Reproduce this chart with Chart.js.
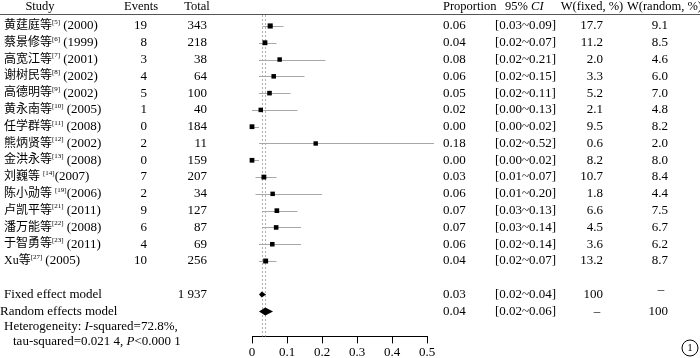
<!DOCTYPE html>
<html>
<head>
<meta charset="utf-8">
<script src="https://cdn.jsdelivr.net/npm/chart.js@4/dist/chart.umd.min.js"></script>
<style>
  html, body { margin: 0; padding: 0; background: #fff; }
  #wrap { width: 700px; height: 358px; position: relative; }
</style>
</head>
<body>
<div id="wrap"><canvas id="forestChart"></canvas></div>
<script>
// study rows
const studies = ['黄莛庭等', '蔡景修等', '高宽江等', '谢树民等', '高德明等', '黄永南等', '任学群等', '熊炳贤等',
                 '金洪永等', '刘巍等', '陈小勋等', '卢凯平等', '潘万能等', '于智勇等', 'Xu等'];
const refs = ['5', '6', '7', '8', '9', '10', '11', '12', '13', '14', '19', '21', '22', '23', '27'];
const years = ['2000', '1999', '2001', '2002', '2002', '2005', '2008', '2002', '2008', '2007', '2006', '2011', '2008', '2011', '2005'];
const events = [19, 8, 3, 4, 5, 1, 0, 2, 0, 7, 2, 9, 6, 4, 10];
const totals = [343, 218, 38, 64, 100, 40, 184, 11, 159, 207, 34, 127, 87, 69, 256];
const proportions = [0.052, 0.037, 0.079, 0.062, 0.05, 0.025, 0.0, 0.182, 0.0, 0.034, 0.059, 0.071, 0.069, 0.058, 0.039];
const propLabels = ['0.06', '0.04', '0.08', '0.06', '0.05', '0.02', '0.00', '0.18', '0.00', '0.03', '0.06', '0.07', '0.07', '0.06', '0.04'];
const ciLow = [0.03, 0.02, 0.02, 0.02, 0.02, 0.00, 0.00, 0.02, 0.00, 0.01, 0.01, 0.03, 0.03, 0.02, 0.02];
const ciHigh = [0.09, 0.07, 0.21, 0.15, 0.11, 0.13, 0.02, 0.52, 0.02, 0.07, 0.20, 0.13, 0.14, 0.14, 0.07];
const wFixed = ['17.7', '11.2', '2.0', '3.3', '5.2', '2.1', '9.5', '0.6', '8.2', '10.7', '1.8', '6.6', '4.5', '3.6', '13.2'];
const wRandom = ['9.1', '8.5', '4.6', '6.0', '7.0', '4.8', '8.2', '2.0', '8.0', '8.4', '4.4', '7.5', '6.7', '6.2', '8.7'];

// pooled rows
const modelNames = ['Fixed effect model', 'Random effects model'];
const modelTotals = ['1 937', ''];
const modelEst = [0.028, 0.038];
const modelLow = [0.02, 0.02];
const modelHigh = [0.04, 0.06];
const modelProp = ['0.03', '0.04'];
const modelWFixed = ['100', '–'];
const modelWRandom = ['–', '100'];

const xTicks = [0, 0.1, 0.2, 0.3, 0.4, 0.5];

const SERIF = "'Liberation Serif', 'Noto Sans CJK SC', serif";
const CJK = "'Liberation Serif', 'Noto Sans CJK SC', sans-serif";
const FS = '13px ';
const HS = '12.5px ';
const modelRow0 = studies.length + 1;

function txt(ctx, s, x, y, align, font) {
    ctx.font = font || (FS + SERIF);
    ctx.textAlign = align || 'left';
    ctx.fillText(s, x, y);
}

const forestPlugin = {
    id: 'forest',
    beforeDatasetsDraw(chart) {
        const { ctx, scales: { x, y } } = chart;
        ctx.save();
        // pooled estimate reference lines
        ctx.strokeStyle = '#b0b0b0';
        ctx.lineWidth = 1;
        ctx.setLineDash([2, 2]);
        modelEst.forEach(v => {
            const px = Math.round(x.getPixelForValue(v)) + 0.5;
            ctx.beginPath();
            ctx.moveTo(px, 15);
            ctx.lineTo(px, chart.chartArea.bottom);
            ctx.stroke();
        });
        ctx.setLineDash([]);
        // confidence intervals
        ctx.strokeStyle = '#a8a8a8';
        studies.forEach((s, i) => {
            const py = Math.round(y.getPixelForValue(i)) + 0.5;
            ctx.beginPath();
            ctx.moveTo(x.getPixelForValue(ciLow[i]), py);
            ctx.lineTo(x.getPixelForValue(ciHigh[i]), py);
            ctx.stroke();
        });
        // diamonds
        ctx.fillStyle = '#000';
        modelEst.forEach((v, k) => {
            const py = y.getPixelForValue(modelRow0 + k);
            const h = k === 0 ? 3 : 4;
            ctx.beginPath();
            ctx.moveTo(x.getPixelForValue(modelLow[k]), py);
            ctx.lineTo(x.getPixelForValue(v), py - h);
            ctx.lineTo(x.getPixelForValue(modelHigh[k]), py);
            ctx.lineTo(x.getPixelForValue(v), py + h);
            ctx.closePath();
            ctx.fill();
        });
        ctx.restore();
    },
    afterDraw(chart) {
        const { ctx, scales: { y } } = chart;
        ctx.save();
        ctx.fillStyle = '#000';
        ctx.textBaseline = 'middle';

        // header
        txt(ctx, 'Study', 40, 7, 'center', HS + SERIF);
        txt(ctx, 'Events', 141, 7, 'center', HS + SERIF);
        txt(ctx, 'Total', 197, 7, 'center', HS + SERIF);
        txt(ctx, 'Proportion', 443, 7, 'left', HS + SERIF);
        ctx.font = HS + SERIF;
        ctx.textAlign = 'left';
        ctx.fillText('95% ', 505, 7);
        const w95 = ctx.measureText('95% ').width;
        txt(ctx, 'CI', 505 + w95, 7, 'left', 'italic ' + HS + SERIF);
        txt(ctx, 'W(fixed, %)', 592, 7, 'center', HS + SERIF);
        txt(ctx, 'W(random, %)', 627, 7, 'left', HS + SERIF);
        ctx.strokeStyle = '#555';
        ctx.lineWidth = 1;
        ctx.beginPath();
        ctx.moveTo(0, 14.5);
        ctx.lineTo(700, 14.5);
        ctx.stroke();

        // study rows
        studies.forEach((s, i) => {
            const py = y.getPixelForValue(i);
            ctx.font = '12px ' + CJK;
            ctx.textAlign = 'left';
            ctx.fillText(s, 4, py);
            let cx = 4 + ctx.measureText(s).width;
            const gapFirst = (i === 9 || i === 10);
            if (gapFirst) cx += 3;
            ctx.font = '7px ' + SERIF;
            const sup = '[' + refs[i] + ']';
            ctx.fillText(sup, cx, py - 4);
            cx += ctx.measureText(sup).width + (gapFirst ? 0 : 3);
            txt(ctx, '(' + years[i] + ')', cx, py, 'left');
            txt(ctx, String(events[i]), 147, py, 'right');
            txt(ctx, String(totals[i]), 207, py, 'right');
            txt(ctx, propLabels[i], 443, py, 'left');
            txt(ctx, '[' + ciLow[i].toFixed(2) + '~' + ciHigh[i].toFixed(2) + ']', 495, py, 'left');
            txt(ctx, wFixed[i], 603, py, 'right');
            txt(ctx, wRandom[i], 668, py, 'right');
        });

        // pooled rows
        modelNames.forEach((m, k) => {
            const py = y.getPixelForValue(modelRow0 + k);
            txt(ctx, m, k === 0 ? 4 : 0, py, 'left');
            txt(ctx, modelTotals[k], 207, py, 'right');
            txt(ctx, modelProp[k], 443, py, 'left');
            txt(ctx, '[' + modelLow[k].toFixed(2) + '~' + modelHigh[k].toFixed(2) + ']', 495, py, 'left');
            if (modelWFixed[k] === '–') txt(ctx, '–', 597, py, 'center');
            else txt(ctx, modelWFixed[k], 603, py, 'right');
            if (modelWRandom[k] === '–') txt(ctx, '–', 661, py - 5, 'center');
            else txt(ctx, modelWRandom[k], 668, py, 'right');
        });

        // heterogeneity
        const parts1 = [['Heterogeneity: ', ''], ['I', 'italic '], ['-squared=72.8%,', '']];
        const parts2 = [['tau-squared=0.021 4, ', ''], ['P', 'italic '], ['<0.000 1', '']];
        [[parts1, 4, 327], [parts2, 13, 342]].forEach(([parts, x0, py]) => {
            let cx = x0;
            parts.forEach(([t, st]) => {
                ctx.font = st + FS + SERIF;
                ctx.textAlign = 'left';
                ctx.fillText(t, cx, py);
                cx += ctx.measureText(t).width;
            });
        });

        // figure number
        ctx.beginPath();
        ctx.arc(690, 348, 8, 0, Math.PI * 2);
        ctx.strokeStyle = '#000';
        ctx.stroke();
        txt(ctx, '1', 690, 348.5, 'center', '11px ' + SERIF);
        ctx.restore();
    }
};

new Chart(document.getElementById('forestChart'), {
    type: 'scatter',
    data: {
        datasets: [{
            label: 'Proportion',
            data: proportions.map((p, i) => ({ x: p, y: i })),
            pointStyle: 'rect',
            pointRadius: wFixed.map(w => 3.1 + 0.03 * parseFloat(w)),
            backgroundColor: '#000',
            borderWidth: 0,
            clip: false
        }]
    },
    options: {
        responsive: true,
        maintainAspectRatio: false,
        animation: false,
        events: [],
        layout: { padding: { left: 252, right: 273, top: 8, bottom: -3 } },
        plugins: { legend: { display: false }, tooltip: { enabled: false } },
        scales: {
            x: {
                type: 'linear',
                min: 0,
                max: 0.5,
                afterBuildTicks: axis => { axis.ticks = xTicks.map(v => ({ value: v })); },
                grid: { drawOnChartArea: false, drawTicks: true, tickLength: 7, color: '#000' },
                border: { display: true, color: '#000', width: 1 },
                ticks: { color: '#000', padding: 1, maxRotation: 0, font: { family: SERIF, size: 13 } }
            },
            y: {
                type: 'linear',
                reverse: true,
                min: -1.07,
                max: 18.49,
                display: false
            }
        }
    },
    plugins: [forestPlugin]
});
</script>
</body>
</html>
